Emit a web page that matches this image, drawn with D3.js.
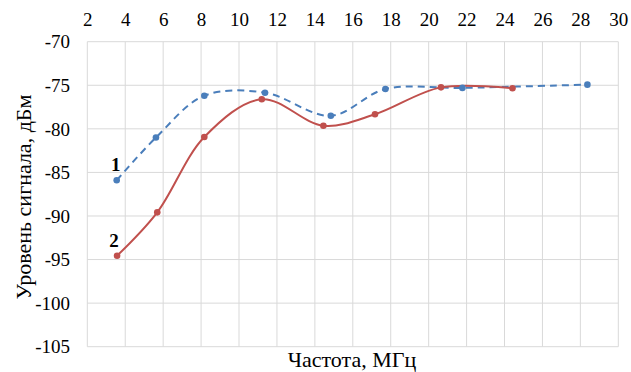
<!DOCTYPE html>
<html><head><meta charset="utf-8">
<script src="https://cdn.jsdelivr.net/npm/d3@7"></script>
</head><body style="margin:0">
<svg id="c" width="631" height="372" style="font-family:'Liberation Serif',serif"></svg>
<script>
const xTicks = [2,4,6,8,10,12,14,16,18,20,22,24,26,28,30];
const yTicks = [-70,-75,-80,-85,-90,-95,-100,-105];
const series1X = [3.55,5.62,8.17,11.37,14.84,17.72,21.78,28.37];
const series1Y = [-85.9,-81.0,-76.2,-75.85,-78.5,-75.43,-75.3,-74.93];
const series2X = [3.57,5.69,8.17,11.2,14.45,17.17,20.65,24.42];
const series2Y = [-94.56,-89.58,-80.94,-76.6,-79.64,-78.33,-75.24,-75.35];
const seriesLabels = ["1","2"];
const xTitle = "Частота, МГц";
const yTitle = "Уровень сигнала, дБм";

const svg = d3.select("#c");
const L=87.3,R=618.3,T=41.7,B=346.7;
const x = d3.scaleLinear().domain([2,30]).range([L,R]);
const y = d3.scaleLinear().domain([-70,-105]).range([T,B]);
const grid="#d9d9d9";
const serif = sel => sel.style("font-family","'Liberation Serif', 'Times New Roman', serif","important");

svg.selectAll(".vg").data(xTicks).join("line").attr("class","vg")
 .attr("x1",d=>x(d)).attr("x2",d=>x(d)).attr("y1",T).attr("y2",B)
 .attr("stroke",grid).attr("stroke-width",1);
svg.selectAll(".hg").data(yTicks).join("line").attr("class","hg")
 .attr("x1",L).attr("x2",R).attr("y1",d=>y(d)).attr("y2",d=>y(d))
 .attr("stroke",grid).attr("stroke-width",1);

const fmt = d => String(d);
const xa = d3.axisTop(x).tickValues(xTicks).tickSize(0).tickPadding(0).tickFormat(fmt);
const gx = svg.append("g").attr("transform",`translate(0,26)`).call(xa)
 .attr("font-family",null).attr("font-size",19);
gx.select(".domain").remove();
gx.selectAll("text").attr("fill","#000").attr("dy","0").call(serif);

const ya = d3.axisLeft(y).tickValues(yTicks).tickSize(0).tickPadding(0).tickFormat(fmt);
const gy = svg.append("g").attr("transform",`translate(70,0)`).call(ya)
 .attr("font-family",null).attr("font-size",19);
gy.select(".domain").remove();
gy.selectAll("text").attr("fill","#000").attr("dy","0.33em").call(serif);

const curve = d3.curveCatmullRom.alpha(0.5);
const line = d3.line().x(d=>x(d[0])).y(d=>y(d[1])).curve(curve);
const s1 = series1X.map((v,i)=>[v,series1Y[i]]);
const s2 = series2X.map((v,i)=>[v,series2Y[i]]);
const c1="#4a7ebb", c2="#c0504d";

svg.append("path").datum(s1).attr("d",line).attr("fill","none")
 .attr("stroke",c1).attr("stroke-width",2).attr("stroke-dasharray","7,5");
svg.append("path").datum(s2).attr("d",line).attr("fill","none")
 .attr("stroke",c2).attr("stroke-width",2);
svg.selectAll(".p1").data(s1).join("circle").attr("class","p1").attr("cx",d=>x(d[0])).attr("cy",d=>y(d[1])).attr("r",3.3).attr("fill",c1);
svg.selectAll(".p2").data(s2).join("circle").attr("class","p2").attr("cx",d=>x(d[0])).attr("cy",d=>y(d[1])).attr("r",3.3).attr("fill",c2);

svg.append("text").attr("x",x(series1X[0])-1).attr("y",y(series1Y[0])-9).attr("text-anchor","middle")
 .attr("font-size",19).attr("font-weight","bold").text(seriesLabels[0]).call(serif);
svg.append("text").attr("x",x(series2X[0])-3).attr("y",y(series2Y[0])-9).attr("text-anchor","middle")
 .attr("font-size",19).attr("font-weight","bold").text(seriesLabels[1]).call(serif);

svg.append("text").attr("x",352).attr("y",367).attr("text-anchor","middle")
 .attr("font-size",22).text(xTitle).call(serif);
svg.append("text").attr("transform",`translate(31,197) rotate(-90)`).attr("text-anchor","middle")
 .attr("font-size",22).text(yTitle).call(serif);
</script></body></html>
